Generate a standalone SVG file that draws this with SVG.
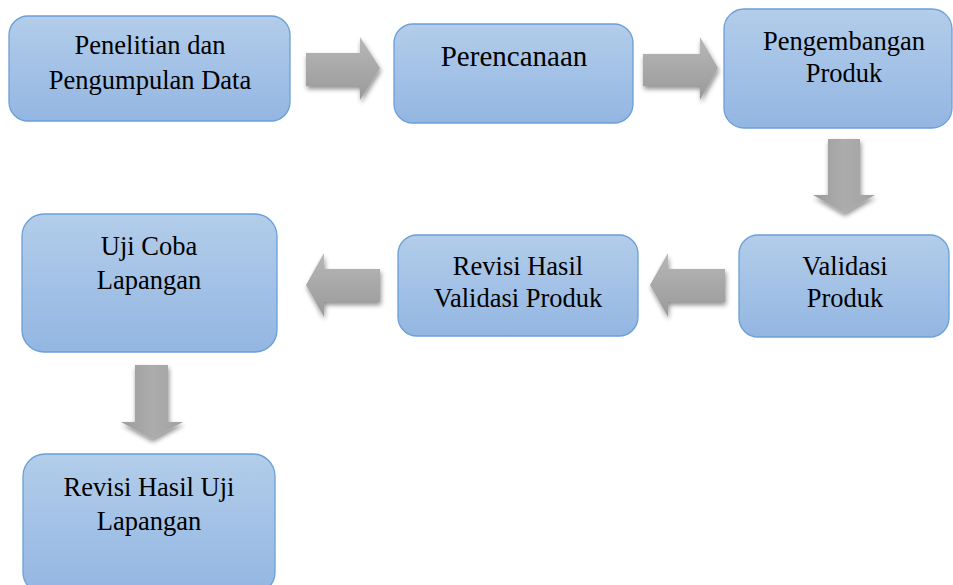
<svg xmlns="http://www.w3.org/2000/svg" width="953" height="585" viewBox="0 0 953 585">
<style>
.box{fill:url(#bg);stroke:#6a9fd8;stroke-width:1.3}
text{font-family:'Liberation Serif',Tinos,'Times New Roman',Times,serif;font-size:26.5px;fill:#000;text-anchor:middle}
.arr{fill:url(#ag);filter:url(#sh)}
.arrv{fill:url(#agv);filter:url(#sh)}
</style>
<defs>
<linearGradient id="bg" x1="0" y1="0" x2="0" y2="1">
<stop offset="0" stop-color="#b3cdea"/>
<stop offset="1" stop-color="#93b6e2"/>
</linearGradient>
<linearGradient id="ag" x1="0" y1="0" x2="0" y2="1">
<stop offset="0" stop-color="#b8b8b8"/>
<stop offset="0.5" stop-color="#a8a8a8"/>
<stop offset="1" stop-color="#9a9a9a"/>
</linearGradient>
<linearGradient id="agv" x1="0" y1="0" x2="1" y2="0">
<stop offset="0" stop-color="#9c9c9c"/>
<stop offset="0.5" stop-color="#acacac"/>
<stop offset="1" stop-color="#a2a2a2"/>
</linearGradient>
<filter id="sh" x="-30%" y="-30%" width="160%" height="160%">
<feGaussianBlur in="SourceAlpha" stdDeviation="2.5"/>
<feOffset dx="1" dy="3" result="b"/>
<feComponentTransfer><feFuncA type="linear" slope="0.45"/></feComponentTransfer>
<feMerge><feMergeNode/><feMergeNode in="SourceGraphic"/></feMerge>
</filter>
</defs>
<g id="connectors">
<path class="arr" d="M306,53 H360 V37 L380,68 L360,100 V86 H306 Z"/>
<path class="arr" d="M643,54 H700 V37 L718,68 L700,100 V86 H643 Z"/>
<path class="arrv" d="M828,139 H860 V195 H875 L844,213 L813,195 H828 Z"/>
<path class="arr" d="M725,269 H668 V253 L650,285 L668,317 V302 H725 Z"/>
<path class="arr" d="M380,269 H324 V253 L306,285 L324,317 V302 H380 Z"/>
<path class="arrv" d="M135,365 H168 V422 H183 L152,439 L121,422 H135 Z"/>
</g>
<g id="n1">
<rect class="box" x="9" y="16" width="281" height="105" rx="19"/>
<text x="150" y="54">Penelitian dan</text>
<text x="150" y="89">Pengumpulan Data</text>
</g>
<g id="n2">
<rect class="box" x="394" y="24" width="239" height="99" rx="19"/>
<text x="514" y="66" style="font-size:29px">Perencanaan</text>
</g>
<g id="n3">
<rect class="box" x="724" y="9" width="228" height="119" rx="20"/>
<text x="844" y="50">Pengembangan</text>
<text x="844" y="82">Produk</text>
</g>
<g id="n4">
<rect class="box" x="739" y="235" width="210" height="102" rx="19"/>
<text x="845" y="275">Validasi</text>
<text x="845" y="307">Produk</text>
</g>
<g id="n5">
<rect class="box" x="398" y="235" width="240" height="101" rx="19"/>
<text x="518" y="275">Revisi Hasil</text>
<text x="518" y="307">Validasi Produk</text>
</g>
<g id="n6">
<rect class="box" x="22" y="214" width="255" height="138" rx="22"/>
<text x="149" y="255">Uji Coba</text>
<text x="149" y="289">Lapangan</text>
</g>
<g id="n7">
<rect class="box" x="23" y="454" width="252" height="140" rx="22"/>
<text x="149" y="496">Revisi Hasil Uji</text>
<text x="149" y="530">Lapangan</text>
</g>
</svg>
